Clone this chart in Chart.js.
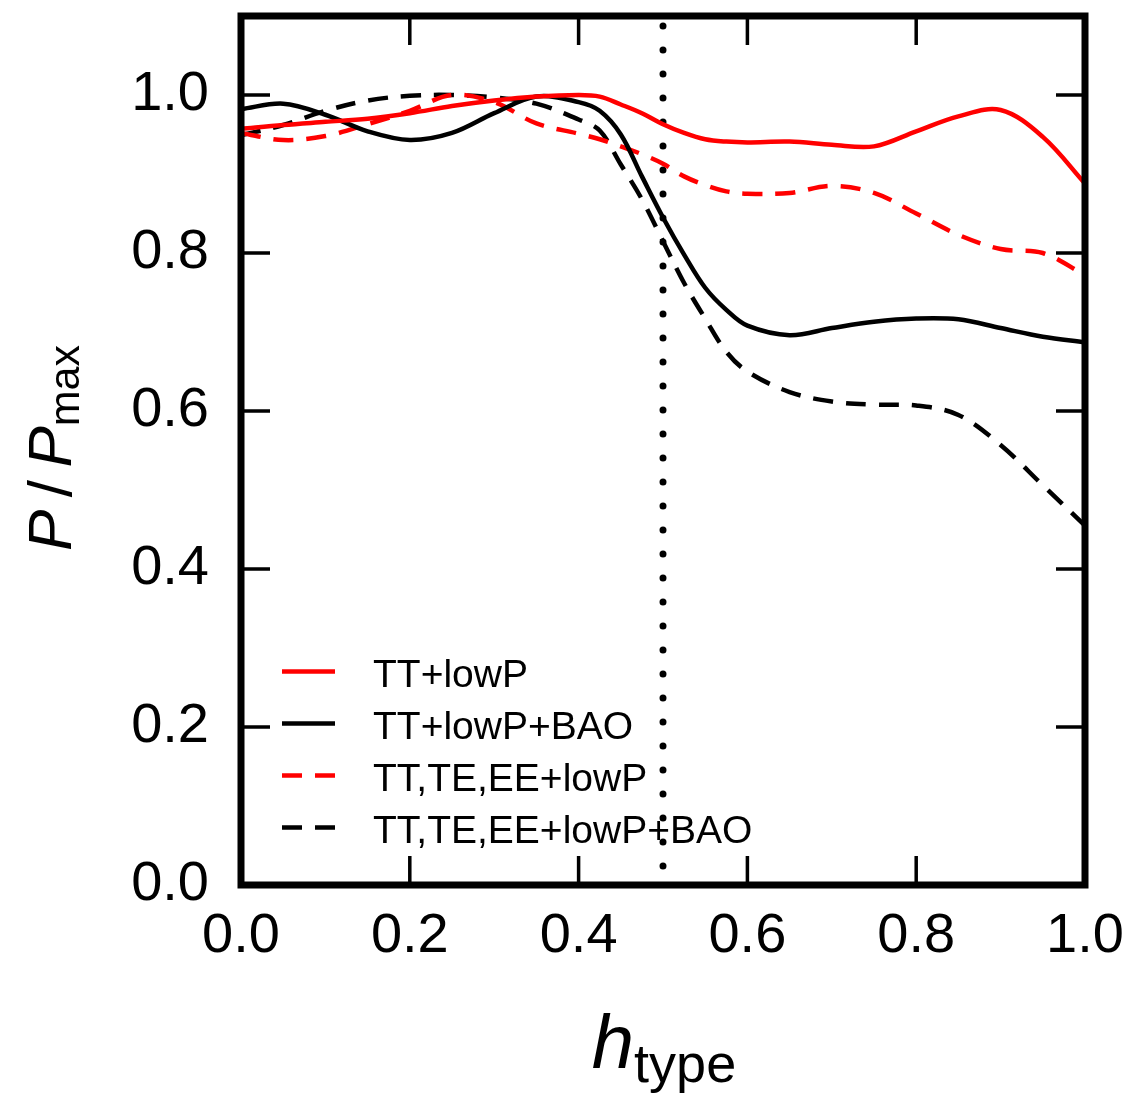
<!DOCTYPE html>
<html>
<head>
<meta charset="utf-8">
<script src="https://cdn.jsdelivr.net/npm/chart.js@4.4.1/dist/chart.umd.min.js"></script>
<style>
  html, body { margin: 0; padding: 0; background: #fff; }
  #wrap { position: relative; width: 1135px; height: 1096px; overflow: hidden; }
  #c { position: absolute; left: 0; top: 0; }
  .t { position: absolute; font-family: "Liberation Sans", Arial, sans-serif; color: #000; white-space: nowrap; line-height: 1; }
  #xtitle { left: 664px; top: 1004px; font-size: 76px; transform: translateX(-50%); }
  #xtitle .sub { font-size: 54px; position: relative; top: 14px; }
  #ytitle { left: 50px; top: 448px; font-size: 62px; transform: translate(-50%, -50%) rotate(-90deg); }
  #ytitle .sub { font-size: 43px; position: relative; top: 8px; }
  #legend { position: absolute; left: 282px; top: 648px; font-family: "Liberation Sans", Arial, sans-serif; font-size: 39px; }
  .row { position: relative; height: 52px; line-height: 52px; white-space: nowrap; }
  .row svg { position: absolute; left: 0; top: 0; }
  .row span { position: absolute; left: 91px; top: 0; }
</style>
</head>
<body>
<div id="wrap">
  <canvas id="c" width="1135" height="1096"></canvas>
  <div class="t" id="ytitle"><i>P</i>&#8201;/&#8201;<i>P</i><span class="sub">max</span></div>
  <div class="t" id="xtitle"><i>h</i><span class="sub">type</span></div>
  <div id="legend"></div>
</div>
<script>
// ---- data ----
const hType = [0, 0.05, 0.1, 0.15, 0.2, 0.25, 0.3, 0.35, 0.4, 0.425, 0.45, 0.475, 0.5, 0.525, 0.55, 0.575, 0.6, 0.65, 0.7, 0.75, 0.8, 0.85, 0.9, 0.95, 1.0];
const ttLowP       = [0.957, 0.962, 0.966, 0.970, 0.977, 0.986, 0.993, 0.998, 1.000, 0.998, 0.988, 0.977, 0.963, 0.952, 0.944, 0.941, 0.940, 0.941, 0.937, 0.935, 0.954, 0.973, 0.981, 0.947, 0.888];
const ttLowPBAO    = [0.982, 0.989, 0.975, 0.954, 0.943, 0.952, 0.977, 0.998, 0.991, 0.980, 0.950, 0.897, 0.845, 0.798, 0.756, 0.728, 0.708, 0.696, 0.705, 0.713, 0.717, 0.716, 0.705, 0.694, 0.687];
const ttteeeLowP   = [0.952, 0.943, 0.948, 0.963, 0.980, 1.000, 0.991, 0.964, 0.951, 0.944, 0.935, 0.925, 0.913, 0.897, 0.886, 0.878, 0.875, 0.876, 0.885, 0.876, 0.850, 0.823, 0.805, 0.800, 0.772];
const ttteeeLowPBAO= [0.949, 0.962, 0.980, 0.993, 0.999, 1.000, 0.997, 0.989, 0.969, 0.955, 0.912, 0.868, 0.815, 0.762, 0.717, 0.675, 0.650, 0.624, 0.612, 0.608, 0.607, 0.595, 0.557, 0.506, 0.455];
const seriesNames  = ["TT+lowP", "TT+lowP+BAO", "TT,TE,EE+lowP", "TT,TE,EE+lowP+BAO"];
const seriesColors = ["#ff0000", "#000000", "#ff0000", "#000000"];
const seriesDashed = [false, false, true, true];
const markerH = [0.5, 0.5];
const markerY = [0, 1.1];
const xTicks = [0, 0.2, 0.4, 0.6, 0.8, 1.0];
const yTicks = [0, 0.2, 0.4, 0.6, 0.8, 1.0];

const DASH = [20, 13];
const allSeries = [ttLowP, ttLowPBAO, ttteeeLowP, ttteeeLowPBAO];
const pts = ys => hType.map((x, i) => ({ x: x, y: ys[i] }));

const datasets = allSeries.map((ys, i) => ({
  label: seriesNames[i],
  data: pts(ys),
  borderColor: seriesColors[i],
  borderWidth: 4.5,
  borderDash: seriesDashed[i] ? DASH : [],
  pointRadius: 0,
  fill: false,
  tension: 0.35
}));
datasets.push({
  label: 'marker',
  data: markerH.map((x, i) => ({ x: x, y: markerY[i] })),
  borderColor: '#000',
  borderWidth: 7,
  borderDash: [0, 24],
  borderDashOffset: 5,
  borderCapStyle: 'round',
  pointRadius: 0,
  fill: false
});

const tickFont = { family: "Liberation Sans", size: 56 };

const framePlugin = {
  id: 'frame',
  afterDatasetsDraw(chart) {
    const { ctx, chartArea: a, scales } = chart;
    const x = scales.x, y = scales.y;
    const L = 29;
    ctx.save();
    ctx.strokeStyle = '#000';
    ctx.lineWidth = 3.5;
    ctx.lineCap = 'butt';
    ctx.beginPath();
    x.ticks.forEach(t => {
      const px = x.getPixelForValue(t.value);
      ctx.moveTo(px, a.bottom); ctx.lineTo(px, a.bottom - L);
      ctx.moveTo(px, a.top); ctx.lineTo(px, a.top + L);
    });
    y.ticks.forEach(t => {
      const py = y.getPixelForValue(t.value);
      ctx.moveTo(a.left, py); ctx.lineTo(a.left + L, py);
      ctx.moveTo(a.right, py); ctx.lineTo(a.right - L, py);
    });
    ctx.stroke();
    ctx.lineWidth = 7;
    ctx.strokeRect(a.left, a.top, a.right - a.left, a.bottom - a.top);
    ctx.restore();
  }
};

function zeroPad(s) { s.paddingTop = 0; s.paddingBottom = 0; s.paddingLeft = 0; s.paddingRight = 0; }

new Chart(document.getElementById('c'), {
  type: 'line',
  data: { datasets: datasets },
  options: {
    responsive: false,
    animation: false,
    devicePixelRatio: 1,
    layout: { padding: { top: 16, right: 50, bottom: 0, left: 0 } },
    plugins: { legend: { display: false }, tooltip: { enabled: false } },
    scales: {
      x: {
        type: 'linear', min: 0, max: 1,
        afterBuildTicks: s => { s.ticks = xTicks.map(v => ({ value: v })); },
        afterFit: s => { s.height = 211; zeroPad(s); },
        grid: { display: false, drawTicks: false, tickLength: 0 },
        border: { display: false },
        ticks: { color: '#000', font: tickFont, padding: 18, maxRotation: 0, autoSkip: false,
                 callback: v => Number(v).toFixed(1) }
      },
      y: {
        type: 'linear', min: 0, max: 1.1,
        afterBuildTicks: s => { s.ticks = yTicks.map(v => ({ value: v })); },
        afterFit: s => { s.width = 241; zeroPad(s); },
        grid: { display: false, drawTicks: false, tickLength: 0 },
        border: { display: false },
        ticks: { color: '#000', font: tickFont, padding: 32, autoSkip: false,
                 callback: v => Number(v).toFixed(1) }
      }
    }
  },
  plugins: [framePlugin]
});

// HTML legend built from series arrays
const leg = document.getElementById('legend');
seriesNames.forEach((name, i) => {
  const row = document.createElement('div');
  row.className = 'row';
  const dash = seriesDashed[i] ? ` stroke-dasharray="${DASH.join(' ')}"` : '';
  row.innerHTML = `<svg width="56" height="52"><line x1="0" y1="23.5" x2="53" y2="23.5" stroke="${seriesColors[i]}" stroke-width="4.5"${dash}/></svg><span></span>`;
  row.querySelector('span').textContent = name;
  leg.appendChild(row);
});
</script>
</body>
</html>
